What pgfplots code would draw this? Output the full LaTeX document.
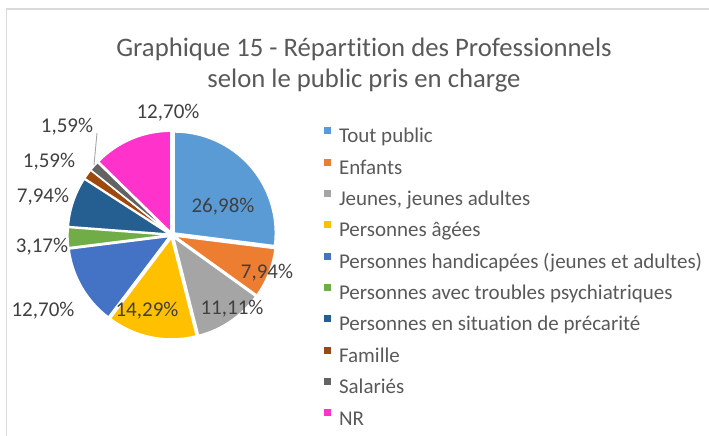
\documentclass[border=0pt]{standalone}
\usepackage{pgfplots}
\usepackage{pgfplotstable}
\pgfplotsset{compat=1.18}
\usetikzlibrary{calc}
\usepackage{fontspec}
\setmainfont{Carlito}[Ligatures=NoCommon]

\definecolor{c0}{HTML}{5B9BD5}
\definecolor{c1}{HTML}{ED7D31}
\definecolor{c2}{HTML}{A5A5A5}
\definecolor{c3}{HTML}{FFC000}
\definecolor{c4}{HTML}{4472C4}
\definecolor{c5}{HTML}{70AD47}
\definecolor{c6}{HTML}{255E91}
\definecolor{c7}{HTML}{9E480E}
\definecolor{c8}{HTML}{636363}
\definecolor{c9}{HTML}{FF33CC}
\definecolor{titlec}{HTML}{595959}
\definecolor{labc}{HTML}{404040}
\definecolor{framec}{HTML}{D9D9D9}

% value, label centre (image px: x from left, y from top)
\pgfplotstableread{
value labx laby
26.98 223 207
7.94  267 273
11.11 232 309
14.29 147 311
12.70 43  311
3.17  42  247
7.94  43  197
1.59  49  162
1.59  67  127
12.70 168 113
}\piedata

\begin{document}
\begin{tikzpicture}
\useasboundingbox (0,0) rectangle (709bp,436bp);
\begin{axis}[
  at={(0,0)}, anchor=origin,
  x=1bp, y=1bp,
  xmin=0, xmax=709, ymin=0, ymax=436,
  hide axis, clip=false,
  /pgf/number format/.cd, fixed, fixed zerofill, precision=2, use comma, assume math mode=true,
  /pgfplots/.cd,
  legend image code/.code={\fill[#1] (0bp,3.3bp) rectangle (7bp,10.3bp);},
  legend style={at={(0.457,0.708)}, anchor=north west, draw=none, fill=none,
    inner sep=0pt, outer sep=0pt,
    font=\fontsize{21bp}{24bp}\selectfont, text=titlec,
    nodes={inner sep=0pt, text height=15bp, text depth=4.5bp},
    row sep=11.3bp, column sep=8bp},
  legend cell align=left,
]
\addlegendimage{fill=c0, draw=none}
\addlegendimage{fill=c1, draw=none}
\addlegendimage{fill=c2, draw=none}
\addlegendimage{fill=c3, draw=none}
\addlegendimage{fill=c4, draw=none}
\addlegendimage{fill=c5, draw=none}
\addlegendimage{fill=c6, draw=none}
\addlegendimage{fill=c7, draw=none}
\addlegendimage{fill=c8, draw=none}
\addlegendimage{fill=c9, draw=none}
\legend{Tout public, Enfants, {Jeunes, jeunes adultes}, Personnes âgées,
  Personnes handicapées (jeunes et adultes), Personnes avec troubles psychiatriques,
  Personnes en situation de précarité, Famille, Salariés, NR}

\pgfplotsextra{
  % frame
  \draw[framec, line width=1.3bp] (axis cs:6.5,0) -- (axis cs:6.5,427) -- (axis cs:709,427);
  % title
  \node[anchor=base, text=titlec, font=\fontsize{26.7bp}{30bp}\selectfont, inner sep=0pt]
    at (axis cs:364,379.3) {Graphique 15 - Répartition des Professionnels};
  \node[anchor=base, text=titlec, font=\fontsize{26.7bp}{30bp}\selectfont, inner sep=0pt]
    at (axis cs:364,348.7) {selon le public pris en charge};
  % slices
  \gdef\cum{0}
  \foreach \i in {0,...,9}{
    \pgfplotstablegetelem{\i}{value}\of\piedata \let\v\pgfplotsretval
    \pgfmathsetmacro\a{90-3.6*\cum}
    \pgfmathsetmacro\b{90-3.6*(\cum+\v)}
    \pgfmathsetmacro\m{(\a+\b)/2}
    \fill[c\i, draw=white, line width=1.4bp]
      ($(axis cs:172,201)+(\m:3bp)$) -- ++(\a:101bp)
      arc[start angle=\a, end angle=\b, radius=101bp] -- cycle;
    \pgfmathsetmacro\newcum{\cum+\v}
    \xdef\cum{\newcum}
  }
  % leader line for Salariés
  \draw[c2, line width=0.9bp] (axis cs:94,271) -- (axis cs:97,303);
  % labels
  \foreach \i in {0,...,9}{
    \pgfplotstablegetelem{\i}{value}\of\piedata \let\v\pgfplotsretval
    \pgfplotstablegetelem{\i}{labx}\of\piedata \let\lx\pgfplotsretval
    \pgfplotstablegetelem{\i}{laby}\of\piedata \let\ly\pgfplotsretval
    \pgfmathsetmacro\yy{436-\ly}
    \node[text=labc, font=\fontsize{21bp}{24bp}\selectfont, inner sep=0pt]
      at (axis cs:\lx,\yy) {\pgfmathprintnumber{\v}\%};
  }
}
\end{axis}
\end{tikzpicture}
\end{document}
